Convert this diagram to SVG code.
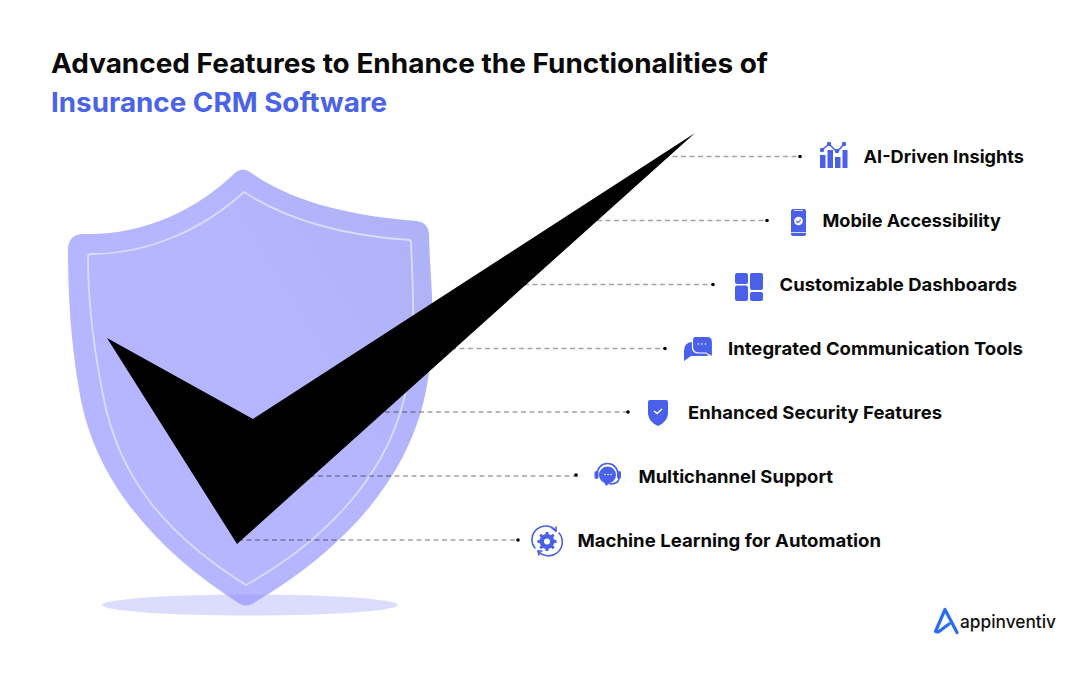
<svg xmlns="http://www.w3.org/2000/svg" width="1080" height="674" viewBox="0 0 1080 674">
<style>
.t{font-family:"Inter","Liberation Sans",sans-serif;font-weight:700}
.title{font-size:27px}
.lab{font-size:18px;fill:#0a0a0a;font-weight:700}
.ln{stroke:#000;stroke-opacity:.36;stroke-width:1.3;stroke-dasharray:5 3.5;fill:none}
.dot{fill:#000}
.ic{fill:#4a60e8}
.icl{fill:none;stroke:#4a60e8;stroke-width:1.6;stroke-linecap:round;stroke-linejoin:round}
.w{fill:#fff}
</style>
<defs>
<linearGradient id="sg" gradientUnits="userSpaceOnUse" x1="250" y1="330" x2="430" y2="220">
<stop offset="0" stop-color="#b5b6ff"/><stop offset="1" stop-color="#afb2f6"/>
</linearGradient>
</defs>
<rect width="1080" height="674" fill="#fff"/>
<g id="title">
<text class="t title" x="51" y="73" fill="#0a0a0a" textLength="717" lengthAdjust="spacingAndGlyphs">Advanced Features to Enhance the Functionalities of</text>
<text class="t title" x="51" y="112" fill="#4a63e7" textLength="336" lengthAdjust="spacingAndGlyphs">Insurance CRM Software</text>
</g>
<g id="shield">
<path d="M236 172Q243 167 250 172C295 204 355 216 416 221Q428 222 429 234C430 285 438 330 427 385C412 475 345 550 252 604Q246 607 240 604C155 550 95 480 80 395C70 340 68 290 68 248Q69 235 82 234C140 236 195 212 236 172Z" fill="url(#sg)"/>
<path d="M244 192C290 222 350 236 409 240Q411 240 411 243C413 290 416 330 407 385C393 465 335 535 246 585C158 530 117 470 103 395C92 340 88 300 88 257Q88 254 91 254C145 254 200 232 244 192Z" fill="none" stroke="#d3dffb" stroke-width="1.800"/>
<ellipse cx="250" cy="605" rx="148" ry="10.500" fill="#8f8fff" fill-opacity=".31"/>
</g>
<g id="connectors">
<path class="ln" d="M664 156.500H800M580 220.500H767M490 284.500H714M400 348.500H666M300 412H628M250 476H579M238 540H518"/>
<circle class="dot" cx="800" cy="156.500" r="1.800"/>
<circle class="dot" cx="767" cy="220.500" r="1.800"/>
<circle class="dot" cx="713" cy="284.500" r="1.800"/>
<circle class="dot" cx="665" cy="348.500" r="1.800"/>
<circle class="dot" cx="628" cy="412" r="1.800"/>
<circle class="dot" cx="576" cy="475" r="1.800"/>
<circle class="dot" cx="518" cy="540" r="1.800"/>
</g>
<polygon id="check" points="107,338 253,419 695,133 237,544" fill="#000"/>
<g id="node-ai">
<g>
<rect class="ic" x="820" y="155" width="5.500" height="13"/>
<rect class="ic" x="827.500" y="150" width="5.500" height="18"/>
<rect class="ic" x="835" y="157" width="5.500" height="11"/>
<rect class="ic" x="842.500" y="150" width="5" height="18"/>
<path class="icl" d="M822 150L829 144L837 152L844 144"/>
<circle class="ic" cx="822" cy="150" r="2.200"/><circle class="ic" cx="829" cy="144" r="2.200"/><circle class="ic" cx="837" cy="151" r="2.200"/><circle class="ic" cx="844" cy="144" r="2.200"/>
</g>
<text class="t lab" x="863.500" y="162.500" textLength="160.500" lengthAdjust="spacingAndGlyphs">AI-Driven Insights</text>
</g>
<g id="node-mobile">
<rect class="ic" x="791" y="209" width="15" height="27" rx="2"/>
<circle class="w" cx="798.500" cy="221" r="4.300"/>
<path d="M796.300 221l1.700 1.700 2.700-2.800" fill="none" stroke="#4a60e8" stroke-width="1.100"/>
<path d="M791 232.500H806" stroke="#fff" stroke-width=".8"/>
<path d="M794 210.500H803" stroke="#fff" stroke-width=".8"/>
<text class="t lab" x="822.500" y="226.500" textLength="178.500" lengthAdjust="spacingAndGlyphs">Mobile Accessibility</text>
</g>
<g id="node-dash">
<rect class="ic" x="735" y="273" width="13" height="11" rx="2"/>
<rect class="ic" x="735" y="285.500" width="13" height="15.500" rx="2"/>
<rect class="ic" x="750" y="273" width="13" height="17" rx="2"/>
<rect class="ic" x="750" y="292" width="13" height="9" rx="2"/>
<text class="t lab" x="779.500" y="290.500" textLength="237.500" lengthAdjust="spacingAndGlyphs">Customizable Dashboards</text>
</g>
<g id="node-comm">
<path class="ic" d="M693 342Q684 342 684 351V361L691 356H706Q710 356 710 352V342Z"/>
<path class="ic" stroke="#fff" stroke-width="1.200" d="M695 336.500H707Q712.500 336.500 712.500 342V357L706 353H699Q692.500 353 692.500 347V340Q692.500 336.500 695 336.500Z"/>
<circle class="w" cx="698.500" cy="344" r=".8"/><circle class="w" cx="702" cy="344" r=".8"/><circle class="w" cx="705.500" cy="344" r=".8"/>
<text class="t lab" x="728" y="354.500" textLength="295" lengthAdjust="spacingAndGlyphs">Integrated Communication Tools</text>
</g>
<g id="node-sec">
<path class="ic" d="M650 400H666Q668 400 668 402V414Q667 422 658 426Q649 422 648 414V402Q648 400 650 400Z"/>
<path d="M654 411l3 2.500 5-4.500" fill="none" stroke="#fff" stroke-width="1.500"/>
<text class="t lab" x="688" y="418.500" textLength="254" lengthAdjust="spacingAndGlyphs">Enhanced Security Features</text>
</g>
<g id="node-support">
<circle class="ic" cx="607.500" cy="475" r="8.500"/>
<path class="icl" d="M597 474A10.500 10.500 0 0 1 618 474" stroke-width="1.800"/>
<rect class="ic" x="594.500" y="471" width="4" height="8" rx="2"/>
<rect class="ic" x="617" y="471" width="4" height="8" rx="2"/>
<path class="icl" d="M619 479Q618 484 610 484"/>
<circle class="w" cx="605" cy="474.500" r=".8"/><circle class="w" cx="608" cy="474.500" r=".8"/><circle class="w" cx="611" cy="474.500" r=".8"/>
<path class="ic" d="M604 482L606 486L610 483Z"/>
<text class="t lab" x="638.500" y="482.500" textLength="194.500" lengthAdjust="spacingAndGlyphs">Multichannel Support</text>
</g>
<g id="node-ml">
<path class="icl" d="M535 548A13 13 0 0 1 556 531" stroke-width="1.200"/>
<path class="icl" d="M559 533A13 13 0 0 1 538 551" stroke-width="1.200"/>
<path class="icl" d="M552 528L556 531L556 527M542 551L538 551L539 555" stroke-width="1.200"/>
<circle class="ic" cx="547" cy="541.500" r="7.500"/>
<path d="M547 532v19M537.500 541.500h19M540.300 534.800l13.400 13.400M553.700 534.800l-13.400 13.400" stroke="#4a60e8" stroke-width="3"/>
<circle class="w" cx="547" cy="541.500" r="3"/>
<text class="t lab" x="577.500" y="546.500" textLength="303.500" lengthAdjust="spacingAndGlyphs">Machine Learning for Automation</text>
</g>
<g id="logo">
<path d="M957 632.500L945 609.500L935.500 631.500Q937 632.500 939 631.500L949 624" fill="none" stroke="#2a6df4" stroke-width="3.200" stroke-linejoin="round" stroke-linecap="round"/>
<text x="960" y="628" font-family="Inter,'Liberation Sans',sans-serif" font-size="18" font-weight="500" fill="#111" textLength="96" lengthAdjust="spacingAndGlyphs">appinventiv</text>
</g>
</svg>
